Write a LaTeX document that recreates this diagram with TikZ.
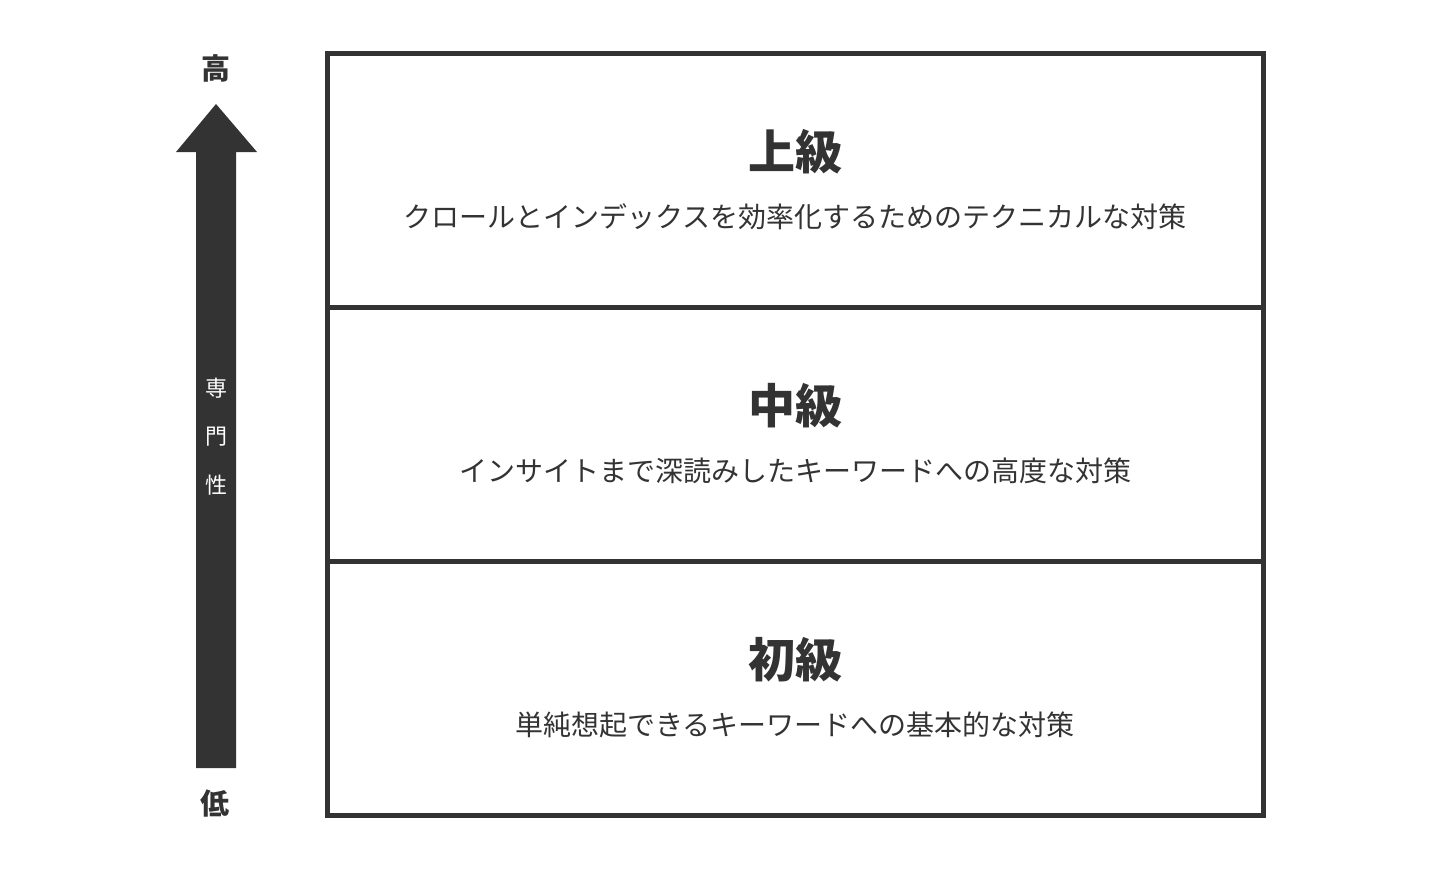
\documentclass[tikz,border=0pt]{standalone}
\usepackage{fontspec}
\newfontfamily\jp{Noto Sans CJK JP}
\definecolor{ink}{HTML}{333333}
\begin{document}
\begin{tikzpicture}[x=1pt,y=-1pt,
  frame/.style={draw=ink,line width=5pt},
  title/.style={text=ink,font=\jp\bfseries\fontsize{47}{50}\selectfont,inner sep=0pt},
  sub/.style={text=ink,font=\jp\fontsize{28}{30}\selectfont,inner sep=0pt},
  axis/.style={text=ink,font=\jp\bfseries\fontsize{29}{30}\selectfont,inner sep=0pt},
  vert/.style={text=white,font=\jp\fontsize{22}{24}\selectfont,inner sep=0pt}]
\useasboundingbox (0,0) rectangle (1440,871);
% arrow
\fill[ink] (196,768) -- (196,152) -- (176,152) -- (216,104) -- (257,152) -- (236,152) -- (236,768) -- cycle;
\node[axis] (hi) at (216,68) {高};
\node[axis] (lo) at (215,804) {低};
\node[vert] (v1) at (216,388) {専};
\node[vert] (v2) at (216,437) {門};
\node[vert] (v3) at (216,485) {性};
% boxes
\node[frame,minimum width=935.5pt,minimum height=254pt,inner sep=0pt] (r1) at (795.25,180.5) {};
\node[frame,minimum width=935.5pt,minimum height=254pt,inner sep=0pt] (r2) at (795.25,434.5) {};
\node[frame,minimum width=935.5pt,minimum height=254pt,inner sep=0pt] (r3) at (795.25,688.5) {};
\node[title] (t1) at (795,152) {上級};
\node[sub] (s1) at (795,217) {クロールとインデックスを効率化するためのテクニカルな対策};
\node[title] (t2) at (795,406) {中級};
\node[sub] (s2) at (795,471) {インサイトまで深読みしたキーワードへの高度な対策};
\node[title] (t3) at (795,660) {初級};
\node[sub] (s3) at (795,725) {単純想起できるキーワードへの基本的な対策};
\end{tikzpicture}
\end{document}
